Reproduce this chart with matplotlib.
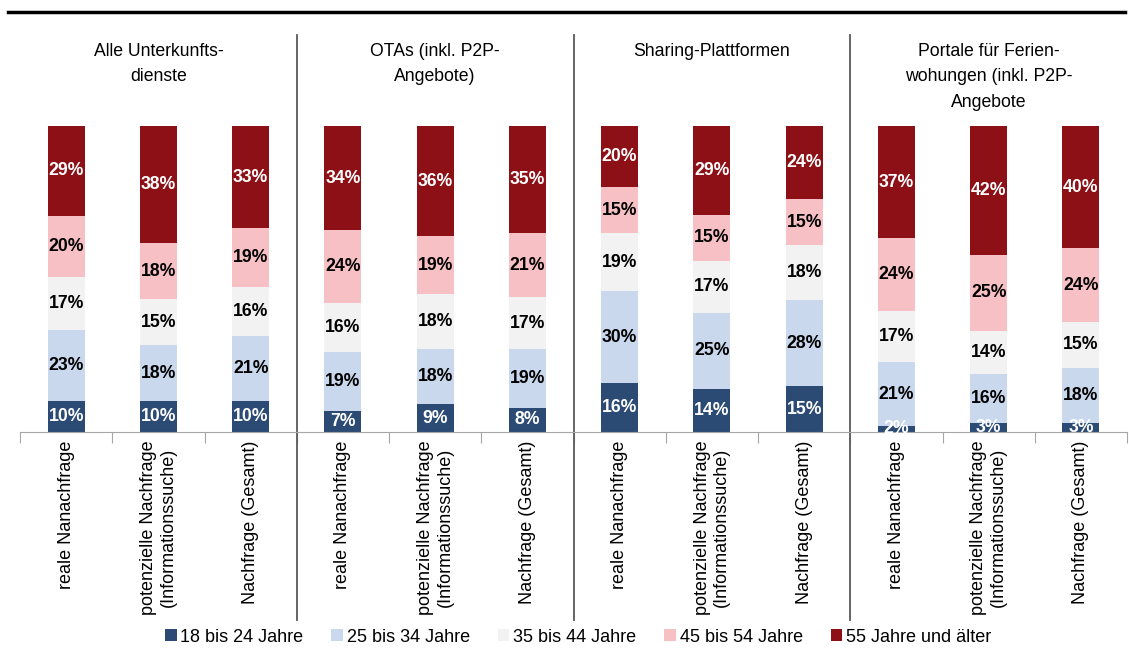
import numpy as np
import matplotlib.pyplot as plt
from matplotlib.patches import Patch
from matplotlib.lines import Line2D

plt.rcParams['font.family'] = ['Liberation Sans', 'DejaVu Sans']

gruppen = ["Alle Unterkunfts-\ndienste", "OTAs (inkl. P2P-\nAngebote)",
           "Sharing-Plattformen", "Portale für Ferien-\nwohungen (inkl. P2P-\nAngebote"]
kategorien = ["reale Nanachfrage", "potenzielle Nachfrage\n(Informationssuche)",
              "Nachfrage (Gesamt)"] * 4
altersgruppen = ["18 bis 24 Jahre", "25 bis 34 Jahre", "35 bis 44 Jahre",
                 "45 bis 54 Jahre", "55 Jahre und älter"]

a18_24 = [10, 10, 10, 7, 9, 8, 16, 14, 15, 2, 3, 3]
a25_34 = [23, 18, 21, 19, 18, 19, 30, 25, 28, 21, 16, 18]
a35_44 = [17, 15, 16, 16, 18, 17, 19, 17, 18, 17, 14, 15]
a45_54 = [20, 18, 19, 24, 19, 21, 15, 15, 15, 24, 25, 24]
a55 = [29, 38, 33, 34, 36, 35, 20, 29, 24, 37, 42, 40]

farben = ["#2b4a74", "#c9d8ec", "#f2f2f2", "#f7c0c4", "#8c1016"]
textfarben = ["white", "black", "black", "black", "white"]

serien = np.array([a18_24, a25_34, a35_44, a45_54, a55], dtype=float)
anteile = serien / serien.sum(axis=0)

fig = plt.figure(figsize=(11.29, 6.49), dpi=100)
ax = fig.add_axes([20 / 1129, 217 / 649, 1107 / 1129, 306 / 649])

x = np.arange(12)
unten = np.zeros(12)
for i in range(5):
    ax.bar(x, anteile[i], 0.4, bottom=unten, color=farben[i], linewidth=0)
    for j in range(12):
        ax.text(x[j], unten[j] + anteile[i][j] / 2, f"{int(serien[i][j])}%",
                ha="center", va="center", fontsize=12.7, fontweight="bold",
                color=textfarben[i])
    unten += anteile[i]

ax.set_xlim(-0.5, 11.5)
ax.set_ylim(0, 1)
for s in ["top", "right", "left"]:
    ax.spines[s].set_visible(False)
ax.spines["bottom"].set_color("#a6a6a6")
ax.set_yticks([])

ax.set_xticks(np.arange(-0.5, 12, 1))
ax.set_xticklabels([])
ax.tick_params(axis="x", which="major", length=8, color="#a6a6a6")
ax.set_xticks(x, minor=True)
ax.set_xticklabels(kategorien, minor=True, rotation=90, fontsize=13,
                   ha="center", va="top")
ax.tick_params(axis="x", which="minor", length=0, pad=6)

# Gruppentrennlinien und Überschriften
trans = ax.get_xaxis_transform()
for g in [2.5, 5.5, 8.5]:
    ax.add_line(Line2D([g, g], [-0.614, 1.297], transform=trans, color="#595959",
                       linewidth=1.3, clip_on=False))
for k, titel in enumerate(gruppen):
    ax.text(3 * k + 1, 1.271, titel, transform=trans, ha="center", va="top",
            fontsize=12.7, linespacing=1.64)

# Linie oben
fig.add_artist(Line2D([8 / 1129, 1125 / 1129], [1 - 12 / 649, 1 - 12 / 649],
                      color="black", linewidth=2.5))

handles = [Patch(facecolor=farben[i], label=altersgruppen[i]) for i in range(5)]
fig.legend(handles=handles, loc="center", bbox_to_anchor=(0.512, 1 - 637 / 649),
           ncol=5, frameon=False, fontsize=13, handlelength=0.65,
           handleheight=0.65, handletextpad=0.2, columnspacing=1.55)

fig.savefig("out.png", dpi=100)
